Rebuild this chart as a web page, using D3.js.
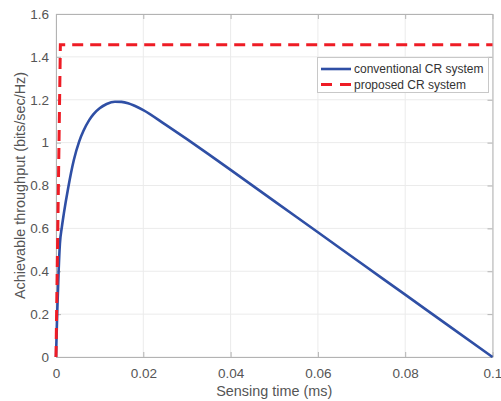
<!DOCTYPE html>
<html>
<head>
<meta charset="utf-8">
<script src="https://cdn.jsdelivr.net/npm/d3@7"></script>
<style>
  body { margin: 0; background: #fff; }
  text { font-family: "Liberation Sans", Arial, sans-serif; }
</style>
</head>
<body>
<div id="graph"></div>
<script>
// sensing time (ms) and achievable throughput
var convTime = [0, 0.0003, 0.0006, 0.0009, 0.0013, 0.0018, 0.0028, 0.0041, 0.0053, 0.0063,
                0.0076, 0.0086, 0.0100, 0.0116, 0.0135, 0.015, 0.0165, 0.018, 0.02, 0.025,
                0.03, 0.035, 0.04, 0.05, 0.06, 0.07, 0.08, 0.09, 0.1];
var convRate = [0, 0.22, 0.40, 0.53, 0.60, 0.67, 0.79, 0.92, 1.005, 1.055,
                1.105, 1.133, 1.16, 1.18, 1.191, 1.19, 1.184, 1.172, 1.152, 1.085,
                1.016, 0.945, 0.873, 0.727, 0.582, 0.436, 0.291, 0.145, 0];
var propTime = [0, 0.001, 0.1];
var propRate = [0, 1.456, 1.456];

var xTicks = [0, 0.02, 0.04, 0.06, 0.08, 0.1];
var yTicks = [0, 0.2, 0.4, 0.6, 0.8, 1, 1.2, 1.4, 1.6];
var seriesNames = ['conventional CR system', 'proposed CR system'];

var w = 501,
    h = 401;

var vis = d3.select('#graph')
            .append('svg')
            .attr('width', w)
            .attr('height', h);

var x = d3.scaleLinear().domain([0, 0.1]).range([56, 492.5]);
var y = d3.scaleLinear().domain([0, 1.6]).range([357, 14]);

// grid
vis.selectAll('.gx')
    .data(xTicks)
    .enter()
    .append('line')
    .attr('x1', function(d) { return x(d); })
    .attr('x2', function(d) { return x(d); })
    .attr('y1', y(0))
    .attr('y2', y(1.6))
    .attr('stroke', '#ebebeb');

vis.selectAll('.gy')
    .data(yTicks)
    .enter()
    .append('line')
    .attr('x1', x(0))
    .attr('x2', x(0.1))
    .attr('y1', function(d) { return y(d); })
    .attr('y2', function(d) { return y(d); })
    .attr('stroke', '#ebebeb');

// axes with inward ticks, box on all four sides
function fmt(d) { return d3.format('~g')(d); }

var axB = vis.append('g')
    .attr('transform', 'translate(0,' + y(0) + ')')
    .call(d3.axisBottom(x).tickValues(xTicks).tickSizeInner(-5).tickSizeOuter(0).tickPadding(11).tickFormat(fmt));
var axT = vis.append('g')
    .attr('transform', 'translate(0,' + y(1.6) + ')')
    .call(d3.axisTop(x).tickValues(xTicks).tickSizeInner(-5).tickSizeOuter(0).tickFormat(''));
var axL = vis.append('g')
    .attr('transform', 'translate(' + x(0) + ',0)')
    .call(d3.axisLeft(y).tickValues(yTicks).tickSizeInner(-5).tickSizeOuter(0).tickPadding(7).tickFormat(fmt));
var axR = vis.append('g')
    .attr('transform', 'translate(' + x(0.1) + ',0)')
    .call(d3.axisRight(y).tickValues(yTicks).tickSizeInner(-5).tickSizeOuter(0).tickFormat(''));

[axB, axT, axL, axR].forEach(function(a) {
    a.selectAll('path').attr('stroke', '#b3b3b3');
    a.selectAll('line').attr('stroke', '#b3b3b3');
    a.selectAll('text')
        .attr('fill', '#555')
        .style('font-size', '13.5px')
        .style('font-family', '"Liberation Sans", Arial, sans-serif');
});

// lines
var line = d3.line()
    .x(function(d) { return x(d[0]); })
    .y(function(d) { return y(d[1]); });

vis.append('path')
    .datum(d3.zip(convTime, convRate))
    .attr('d', line.curve(d3.curveMonotoneX))
    .attr('fill', 'none')
    .attr('stroke', '#2f4fa5')
    .attr('stroke-width', 2.6);

vis.append('path')
    .datum(d3.zip(propTime, propRate))
    .attr('d', line.curve(d3.curveLinear))
    .attr('fill', 'none')
    .attr('stroke', '#ee1c25')
    .attr('stroke-width', 3)
    .attr('stroke-dasharray', '11,7');

// axis labels
vis.append('text')
    .attr('x', (x(0) + x(0.1)) / 2)
    .attr('y', 396)
    .attr('text-anchor', 'middle')
    .attr('font-size', '14.4px')
    .attr('fill', '#555')
    .text('Sensing time (ms)');

vis.append('text')
    .attr('transform', 'translate(25,' + (y(0) + y(1.6)) / 2 + ') rotate(-90)')
    .attr('text-anchor', 'middle')
    .attr('font-size', '14.4px')
    .attr('fill', '#555')
    .text('Achievable throughput (bits/sec/Hz)');

// legend
var leg = vis.append('g');
leg.append('rect')
    .attr('x', 317.5)
    .attr('y', 57.5)
    .attr('width', 171)
    .attr('height', 35)
    .attr('fill', '#fff')
    .attr('stroke', '#c8c8c8');

var legColors = ['#2f4fa5', '#ee1c25'];
var legDash = [null, '11,8'];
var legWidth = [2.6, 3];

leg.selectAll('.li')
    .data(seriesNames)
    .enter()
    .append('line')
    .attr('x1', 321)
    .attr('x2', 351)
    .attr('y1', function(d, i) { return 69 + i * 15.5; })
    .attr('y2', function(d, i) { return 69 + i * 15.5; })
    .attr('stroke', function(d, i) { return legColors[i]; })
    .attr('stroke-width', function(d, i) { return legWidth[i]; })
    .attr('stroke-dasharray', function(d, i) { return legDash[i]; });

leg.selectAll('.lt')
    .data(seriesNames)
    .enter()
    .append('text')
    .attr('x', 354)
    .attr('y', function(d, i) { return 69 + i * 15.5; })
    .attr('dy', '0.35em')
    .attr('font-size', '12px')
    .attr('fill', '#333')
    .text(function(d) { return d; });
</script>
</body>
</html>
